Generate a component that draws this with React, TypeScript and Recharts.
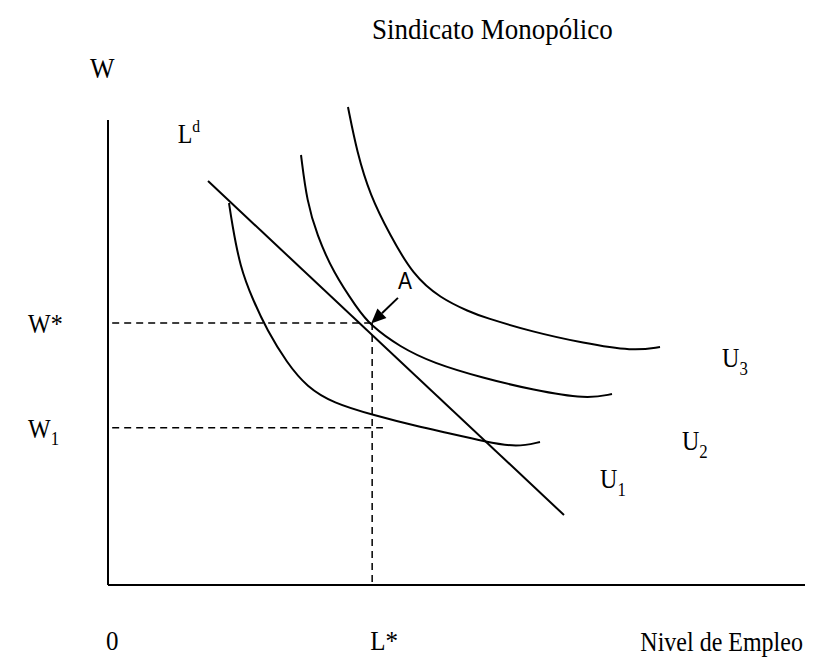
import React from "react";
import {
	ComposedChart,
	Line,
	XAxis,
	YAxis,
	ReferenceLine,
	ReferenceDot,
} from "recharts";

// curves (L on x, W on y, 0..100 units)
const ldCurve = [
	{ x: 14.35, y: 83.3 },
	{ x: 65.42, y: 14.43 },
];

const u1Curve = [
	{ x: 17.36, y: 78.76 },
	{ x: 17.79, y: 74.64 },
	{ x: 18.94, y: 65.57 },
	{ x: 20.8, y: 58.76 },
	{ x: 22.81, y: 52.58 },
	{ x: 25.68, y: 45.77 },
	{ x: 28.55, y: 40.82 },
	{ x: 32.28, y: 37.53 },
	{ x: 38.02, y: 35.05 },
	{ x: 44.76, y: 32.58 },
	{ x: 48.06, y: 31.55 },
	{ x: 54.38, y: 29.48 },
	{ x: 58.68, y: 28.4 },
	{ x: 61.98, y: 29.48 },
];

const u2Curve = [
	{ x: 27.69, y: 88.66 },
	{ x: 28.55, y: 78.97 },
	{ x: 29.99, y: 72.16 },
	{ x: 32.28, y: 64.54 },
	{ x: 35.72, y: 57.11 },
	{ x: 37.59, y: 53.61 },
	{ x: 41.89, y: 49.07 },
	{ x: 46.63, y: 45.77 },
	{ x: 53.8, y: 42.68 },
	{ x: 60.98, y: 40.21 },
	{ x: 68.72, y: 38.3 },
	{ x: 72.31, y: 39.38 },
];

const u3Curve = [
	{ x: 34.43, y: 98.56 },
	{ x: 35.72, y: 89.28 },
	{ x: 37.59, y: 80.41 },
	{ x: 40.46, y: 72.16 },
	{ x: 43.76, y: 63.92 },
	{ x: 47.63, y: 59.18 },
	{ x: 51.94, y: 56.29 },
	{ x: 53.8, y: 55.26 },
	{ x: 60.98, y: 52.16 },
	{ x: 68.15, y: 49.9 },
	{ x: 75.32, y: 48.2 },
	{ x: 79.2, y: 49.07 },
];

const wStar = 54.0;
const wOne = 32.4;
const lStar = 37.9;
const wOneEnd = 39.45;
const axisTop = 95.9;

const arrowA = [
	{ x: 41.6, y: 59.2 },
	{ x: 37.75, y: 53.9 },
];

const xTicks = [0, lStar];
const xTickLabels = ["0", "L*"];
const yTicks = [wOne, wStar];
const yTickLabels = [
	{ main: "W", sub: "1" },
	{ main: "W", sup: "*" },
];

const SERIF = "'Liberation Serif', 'Times New Roman', serif";
const SANS = "'Liberation Sans', Arial, sans-serif";

const MathText = ({ x, y, main, sub, sup, size = 22, family = SERIF, anchor = "start" }: any) => (
	<text
		x={x}
		y={y}
		fontSize={size}
		fontFamily={family}
		fill="#000"
		textAnchor={anchor}
		transform={`translate(0 ${y}) scale(1 1.12) translate(0 ${-y})`}
	>
		{main}
		{sub && (
			<tspan dy={size * 0.28} fontSize={size * 0.7}>
				{sub}
			</tspan>
		)}
		{sup && (
			<tspan dy={sup === "*" ? 0 : -size * 0.42} fontSize={sup === "*" ? size : size * 0.65}>
				{sup}
			</tspan>
		)}
	</text>
);

const labelAt = (opts: any) => (p: any) => {
	const vb = p.viewBox || p;
	return <MathText x={vb.x} y={vb.y} {...opts} />;
};

const XTick = ({ x, y, payload, index }: any) => (
	<MathText x={x - 2} y={y + 57} main={xTickLabels[index] ?? String(payload.value)} size={25} />
);

const YTick = ({ y, index }: any) => {
	const t = yTickLabels[index];
	return <MathText x={28} y={y + 10} main={t.main} sub={t.sub} sup={t.sup} size={24} />;
};

const Arrow = (p: any) => {
	const { x1, y1, x2, y2 } = p;
	const dx = x2 - x1;
	const dy = y2 - y1;
	const len = Math.sqrt(dx * dx + dy * dy);
	const ux = dx / len;
	const uy = dy / len;
	const hl = 15;
	const hw = 6.5;
	const bx = x2 - ux * hl;
	const by = y2 - uy * hl;
	return (
		<g>
			<line x1={x1} y1={y1} x2={bx} y2={by} stroke="#000" strokeWidth={2} />
			<polygon
				points={`${x2},${y2} ${bx - uy * hw},${by + ux * hw} ${bx + uy * hw},${by - ux * hw}`}
				fill="#000"
			/>
		</g>
	);
};

const curveProps = {
	dataKey: "y",
	type: "basis" as const,
	stroke: "#000",
	strokeWidth: 2,
	dot: false,
	activeDot: false,
	isAnimationActive: false,
};

const App = () => {
	return (
		<div style={{ position: "absolute", left: 0, top: 0, background: "#fff" }}>
			<ComposedChart width={815} height={660} margin={{ top: 100, right: 10, bottom: 0, left: 0 }}>
				<XAxis
					type="number"
					dataKey="x"
					domain={[0, 100]}
					ticks={xTicks}
					tick={<XTick />}
					tickLine={false}
					axisLine={{ stroke: "#000", strokeWidth: 2 }}
					height={75}
					interval={0}
				/>
				<YAxis
					type="number"
					domain={[0, 100]}
					ticks={yTicks}
					tick={<YTick />}
					tickLine={false}
					axisLine={false}
					width={108}
					interval={0}
				/>

				{/* vertical axis stops short of the top */}
				<ReferenceLine
					segment={[
						{ x: 0, y: 0 },
						{ x: 0, y: axisTop },
					]}
					stroke="#000"
					strokeWidth={2}
					ifOverflow="visible"
				/>

				{/* dashed guides */}
				<ReferenceLine
					segment={[
						{ x: 0.6, y: wStar },
						{ x: lStar, y: wStar },
					]}
					stroke="#000"
					strokeWidth={1.5}
					strokeDasharray="7 5"
				/>
				<ReferenceLine
					segment={[
						{ x: lStar, y: wStar },
						{ x: lStar, y: 0 },
					]}
					stroke="#000"
					strokeWidth={1.5}
					strokeDasharray="7 5"
				/>
				<ReferenceLine
					segment={[
						{ x: 0.6, y: wOne },
						{ x: wOneEnd, y: wOne },
					]}
					stroke="#000"
					strokeWidth={1.5}
					strokeDasharray="7 5"
				/>

				<Line data={ldCurve} {...curveProps} type="linear" />
				<Line data={u1Curve} {...curveProps} />
				<Line data={u2Curve} {...curveProps} />
				<Line data={u3Curve} {...curveProps} />

				<ReferenceLine segment={arrowA} shape={<Arrow />} ifOverflow="visible" />

				{/* labels */}
				<ReferenceDot x={37.88} y={112.5} r={0} fill="none" stroke="none" ifOverflow="visible"
					label={labelAt({ main: "Sindicato Monopólico", size: 27 })} />
				<ReferenceDot x={-2.6} y={104.5} r={0} fill="none" stroke="none" ifOverflow="visible"
					label={labelAt({ main: "W", size: 26 })} />
				<ReferenceDot x={10.0} y={91.1} r={0} fill="none" stroke="none" ifOverflow="visible"
					label={labelAt({ main: "L", sup: "d", size: 24 })} />
				<ReferenceDot x={41.6} y={61.0} r={0} fill="none" stroke="none" ifOverflow="visible"
					label={labelAt({ main: "A", size: 21, family: SANS })} />
				<ReferenceDot x={88.1} y={44.9} r={0} fill="none" stroke="none" ifOverflow="visible"
					label={labelAt({ main: "U", sub: "3", size: 24 })} />
				<ReferenceDot x={82.35} y={27.8} r={0} fill="none" stroke="none" ifOverflow="visible"
					label={labelAt({ main: "U", sub: "2", size: 24 })} />
				<ReferenceDot x={70.6} y={20.0} r={0} fill="none" stroke="none" ifOverflow="visible"
					label={labelAt({ main: "U", sub: "1", size: 24 })} />
				<ReferenceDot x={99.7} y={-13.6} r={0} fill="none" stroke="none" ifOverflow="visible"
					label={labelAt({ main: "Nivel de Empleo", size: 24, anchor: "end" })} />
			</ComposedChart>
		</div>
	);
};

export default App;
